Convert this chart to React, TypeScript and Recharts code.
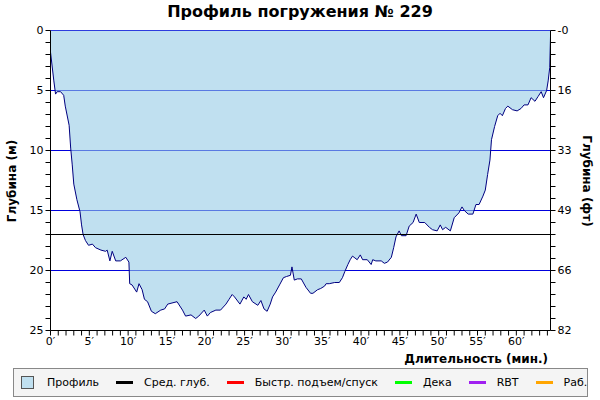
import { ComposedChart, Area, Line, XAxis, YAxis, CartesianGrid, ReferenceLine } from 'recharts';

// dive profile: time (min) / depth (m)
const times = [
  0, 0.43, 0.65, 0.86, 1.3, 1.7, 1.9, 2.4, 2.6, 2.8, 3.0, 3.4, 3.8, 4.0, 4.2, 4.5, 4.9, 5.4, 5.8, 6.5,
  7.1, 7.3, 7.65, 7.95, 8.4, 9.0, 9.7, 10.1, 10.2, 10.5, 11.1, 11.4, 11.8, 12.1, 12.5, 13.0, 13.5, 14.2, 14.7, 15.1,
  16.3, 17.0, 17.4, 18.1, 18.7, 19.1, 19.8, 20.2, 20.6, 21.3, 21.9, 22.6, 23.0, 23.4, 23.7, 24.4, 24.9, 25.2, 25.5, 26.0,
  26.7, 27.1, 27.5, 27.9, 28.3, 28.6, 29.0, 29.5, 30.0, 30.4, 30.9, 31.1, 31.4, 31.8, 32.3, 32.9, 33.5, 33.8, 34.4, 34.8,
  35.3, 35.5, 35.9, 36.6, 37.2, 37.6, 37.9, 38.3, 38.6, 38.9, 39.1, 39.5, 39.9, 40.2, 40.8, 41.3, 41.5, 41.9, 42.6, 43.0,
  43.4, 43.9, 44.2, 44.5, 44.9, 45.2, 45.8, 46.2, 46.7, 47.1, 47.5, 48.2, 48.8, 49.2, 49.8, 50.2, 50.5, 50.9, 51.5, 52.0,
  52.6, 53.0, 53.3, 53.8, 54.4, 54.8, 55.2, 55.7, 56.0, 56.3, 56.6, 56.8, 57.2, 57.6, 57.9, 58.2, 58.6, 58.9, 59.5, 60.1,
  60.6, 61.0, 61.5, 61.9, 62.4, 62.8, 63.2, 63.5, 63.9, 64.1, 64.3, 64.4,
];
const depths = [
  1.8, 4.2, 5.3, 5.1, 5.1, 5.4, 6.3, 7.9, 9.8, 11.2, 12.8, 14.1, 15.1, 16.2, 17.0, 17.5, 17.9, 17.8, 18.1, 18.3,
  18.4, 18.3, 19.2, 18.4, 19.2, 19.2, 18.9, 19.3, 21.1, 21.2, 21.8, 21.1, 21.6, 22.4, 22.6, 23.4, 23.6, 23.3, 23.2, 22.8,
  22.6, 23.3, 23.8, 23.7, 24.0, 23.8, 23.3, 23.8, 23.5, 23.3, 23.3, 22.8, 22.4, 22.0, 22.2, 22.8, 22.2, 22.4, 22.0, 22.6,
  22.9, 22.5, 23.2, 23.4, 22.8, 22.2, 21.8, 21.2, 20.6, 20.5, 20.4, 19.7, 20.8, 20.7, 20.7, 21.4, 21.9, 21.9, 21.6, 21.5,
  21.3, 21.1, 21.1, 21.0, 21.0, 20.6, 20.1, 19.5, 19.1, 18.8, 18.9, 19.1, 18.7, 19.1, 19.1, 19.5, 19.1, 19.2, 19.2, 19.4,
  19.3, 18.9, 18.1, 17.2, 16.7, 17.1, 17.1, 16.3, 16.0, 15.3, 16.0, 16.0, 16.4, 16.6, 16.7, 16.2, 16.6, 16.4, 16.7, 15.6,
  15.2, 14.7, 15.0, 15.3, 15.3, 14.5, 14.5, 13.8, 13.3, 12.0, 10.8, 9.1, 8.0, 7.1, 6.9, 7.1, 6.5, 6.3, 6.6, 6.7,
  6.5, 6.2, 6.2, 5.6, 5.9, 5.5, 5.1, 5.6, 5.0, 4.2, 3.1, 0.5,
];

const meanDepth = 17.0;
const maxTime = 64.4;
const maxDepth = 25;

const depthTicks = Array.from({ length: maxDepth + 1 }, (_, i) => i);
const timeTicks = Array.from({ length: 65 }, (_, i) => i);
const gridDepths = [0, 5, 10, 15, 20];
const meterLabels: Record<number, string> = { 0: '0', 5: '5', 10: '10', 15: '15', 20: '20', 25: '25' };
const feetLabels: Record<number, string> = { 0: '-0', 5: '16', 10: '33', 15: '49', 20: '66', 25: '82' };

const legendItems = [
  { label: 'Профиль', color: '#c0e0f0', box: true },
  { label: 'Сред. глуб.', color: '#000000' },
  { label: 'Быстр. подъем/спуск', color: '#ff0000' },
  { label: 'Дека', color: '#00ff00' },
  { label: 'RBT', color: '#a020f0' },
  { label: 'Раб.', color: '#ffa500' },
];

const data = times.map((t, i) => ({ t, depth: depths[i] }));

const font = '"DejaVu Sans", Verdana, sans-serif';
const tickStyle = { fontSize: 11, fill: '#000', fontFamily: font };

export default function App() {
  return (
    <div style={{ position: 'fixed', left: 0, top: 0, width: 600, height: 400, background: '#fff', fontFamily: font }}>
      <div style={{ position: 'absolute', top: 2, width: 600, textAlign: 'center', fontWeight: 'bold', fontSize: 16 }}>
        Профиль погружения № 229
      </div>
      <div style={{
        position: 'absolute', left: 12, top: 181, transform: 'translate(-50%, -50%) rotate(-90deg)',
        fontWeight: 'bold', fontSize: 12, whiteSpace: 'nowrap',
      }}>
        Глубина (м)
      </div>
      <div style={{
        position: 'absolute', left: 587, top: 181, transform: 'translate(-50%, -50%) rotate(90deg)',
        fontWeight: 'bold', fontSize: 12, whiteSpace: 'nowrap',
      }}>
        Глубина (фт)
      </div>
      <div style={{ position: 'absolute', right: 52, top: 352, fontWeight: 'bold', fontSize: 12 }}>
        Длительность (мин.)
      </div>
      <ComposedChart
        width={600}
        height={400}
        data={data}
        margin={{ top: 30.5, right: 19.5, bottom: 49.5, left: 20.5 }}
      >
        <CartesianGrid
          yAxisId="left"
          horizontal
          vertical={false}
          horizontalValues={gridDepths}
          stroke="#0000dd"
          strokeWidth={1}
        />
        <XAxis
          dataKey="t"
          type="number"
          domain={[0, maxTime]}
          ticks={timeTicks}
          interval={0}
          tickSize={5}
          height={20}
          stroke="#000"
          tick={tickStyle}
          tickFormatter={(v: number) => (v % 5 === 0 ? `${v}′` : '')}
        />
        <YAxis
          yAxisId="left"
          type="number"
          domain={[0, maxDepth]}
          reversed
          ticks={depthTicks}
          interval={0}
          tickSize={5}
          width={30}
          stroke="#000"
          tick={tickStyle}
          tickFormatter={(v: number) => meterLabels[v] ?? ''}
        />
        <YAxis
          yAxisId="right"
          orientation="right"
          type="number"
          domain={[0, maxDepth]}
          reversed
          ticks={depthTicks}
          interval={0}
          tickSize={5}
          width={30}
          stroke="#000"
          tick={tickStyle}
          tickFormatter={(v: number) => feetLabels[v] ?? ''}
        />
        <Area
          yAxisId="left"
          type="linear"
          dataKey="depth"
          baseValue={0}
          fill="#96cbe6"
          fillOpacity={0.6}
          stroke="#000080"
          strokeWidth={1}
          dot={false}
          activeDot={false}
          isAnimationActive={false}
        />
        <Line
          yAxisId="right"
          type="linear"
          dataKey="depth"
          stroke="none"
          dot={false}
          activeDot={false}
          legendType="none"
          isAnimationActive={false}
        />
        <ReferenceLine yAxisId="left" y={meanDepth} stroke="#000" strokeWidth={1} />
      </ComposedChart>
      <div style={{
        position: 'absolute', left: 13, top: 368, width: 573, height: 27, border: '1px solid #888',
        background: '#f4f4f4', display: 'flex', alignItems: 'center', fontSize: 11, whiteSpace: 'nowrap',
        boxSizing: 'content-box',
      }}>
        {legendItems.map((it, i) => (
          <div key={it.label} style={{ display: 'flex', alignItems: 'center', marginLeft: i === 0 ? 7 : 17 }}>
            {it.box ? (
              <span style={{ display: 'inline-block', width: 11, height: 11, background: it.color, border: '1px solid #555' }} />
            ) : (
              <span style={{ display: 'inline-block', width: 17, height: 3, background: it.color }} />
            )}
            <span style={{ marginLeft: it.box ? 13 : 11 }}>{it.label}</span>
          </div>
        ))}
      </div>
    </div>
  );
}
